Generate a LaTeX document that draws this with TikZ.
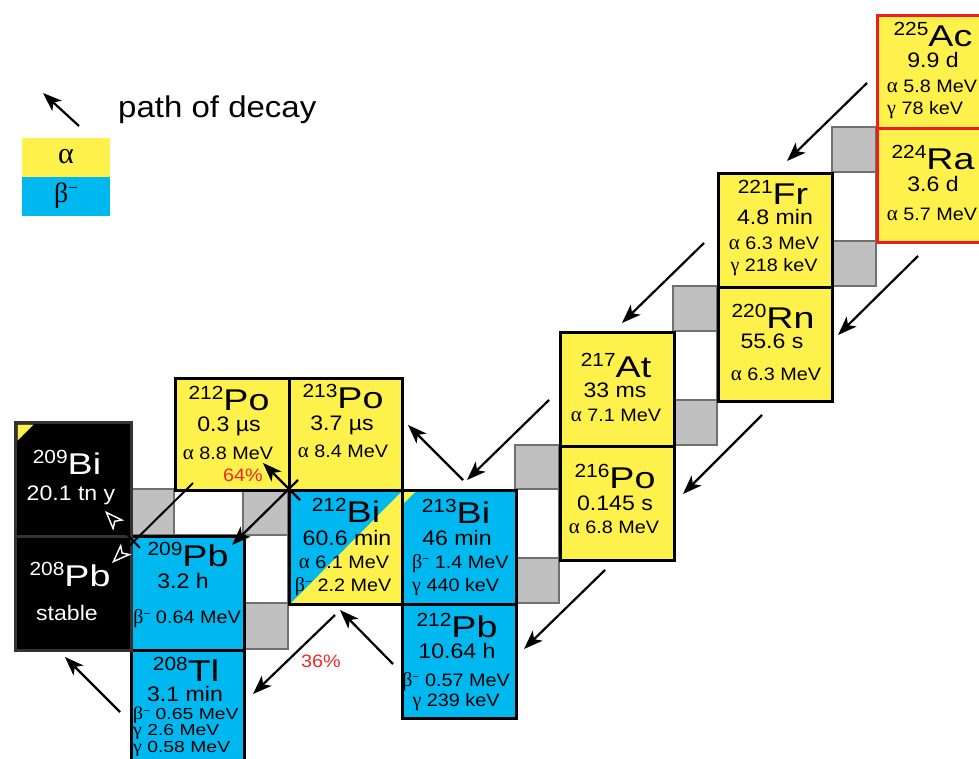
\documentclass[tikz,border=0pt]{standalone}
\usepackage{fontspec}
\setmainfont{Liberation Sans}[FakeStretch=1.1]
\newfontfamily\grk{Liberation Serif}
\usetikzlibrary{arrows.meta}
\definecolor{cyel}{RGB}{255,241,76}
\definecolor{cblu}{RGB}{0,184,240}
\definecolor{cgry}{RGB}{192,192,192}
\definecolor{cgrb}{RGB}{112,112,112}
\definecolor{cred}{RGB}{232,30,40}
\definecolor{cpct}{RGB}{238,40,40}
\newcommand\fsym{\fontsize{30}{30}\selectfont}
\newcommand\fsup{\fontsize{19}{19}\selectfont}
\newcommand\fhl{\fontsize{21}{21}\selectfont}
\newcommand\fen{\fontsize{18}{18}\selectfont}
\newcommand\nuc[2]{{\raisebox{11pt}{\fsup #1}\scalebox{1.14}[1]{\fsym #2}}}
\newcommand\myal{{\grk\fontsize{21}{21}\selectfont α}}
\newcommand\mygm{{\grk\fontsize{20}{20}\selectfont γ}}
\newcommand\mybm{{\grk\fontsize{20}{20}\selectfont β}\raisebox{6pt}{\fontsize{11}{11}\selectfont −}}
\newcommand\mybs{{\grk\fontsize{18}{18}\selectfont β}\raisebox{5pt}{\fontsize{10}{10}\selectfont −}}
\newcommand\mygs{{\grk\fontsize{18}{18}\selectfont γ}}
\begin{document}
\begin{tikzpicture}[x=1pt,y=-1pt,
  cellbox/.style={draw=black,line width=3pt,inner sep=0pt,anchor=north west,minimum width=114pt,minimum height=114pt},
  redbox/.style={cellbox,draw=cred},
  blkbox/.style={cellbox,draw=black!80,fill=black},
  strip/.style={draw=cgrb,line width=2pt},
  txt/.style={inner sep=0pt,anchor=base},
  txl/.style={inner sep=0pt,anchor=base west},
  arr/.style={line width=2.2pt,-{Stealth[length=19pt,width=14pt,inset=5pt]}},
  arw/.style={line width=2pt,-{Stealth[length=20pt,width=15pt,inset=5pt,color=white,fill=black,line width=1.4pt]}}]
\useasboundingbox (0,0) rectangle (979,759);
\clip (0,0) rectangle (979,759);
% strips between columns
\draw[strip,fill=white] (832,127) rectangle (876,286);
\draw[strip,fill=cgry] (832,127) rectangle (876,172);
\draw[strip,fill=cgry] (832,241) rectangle (876,286);
\draw[strip,fill=white] (673,286) rectangle (717,445);
\draw[strip,fill=cgry] (673,286) rectangle (717,331);
\draw[strip,fill=cgry] (673,400) rectangle (717,445);
\draw[strip,fill=white] (515,445) rectangle (559,603);
\draw[strip,fill=cgry] (515,445) rectangle (559,489);
\draw[strip,fill=cgry] (515,558) rectangle (559,603);
\draw[strip,fill=white] (130,489) rectangle (288,535);
\draw[strip,fill=white] (243,489) rectangle (288,649);
\draw[strip,fill=cgry] (130,489) rectangle (174,535);
\draw[strip,fill=cgry] (243,489) rectangle (288,535);
\draw[strip,fill=cgry] (243,603) rectangle (288,649);
% cells
\node[redbox,fill=cyel] (ac) at (876,14) {};
\node[redbox,fill=cyel] (ra) at (876,127) {};
\node[cellbox,fill=cyel] (fr) at (717,172) {};
\node[cellbox,fill=cyel] (rn) at (717,286) {};
\node[cellbox,fill=cyel] (at) at (559,331) {};
\node[cellbox,fill=cyel] (po216) at (559,445) {};
\node[cellbox,fill=cblu,path picture={\fill[cyel] (path picture bounding box.north west) -- ++(14pt,0) -- ++(-14pt,-14pt) -- cycle;}] (bi213) at (401,489) {};
\node[cellbox,fill=cblu] (pb212) at (401,603) {};
\node[cellbox,fill=cyel,minimum width=113pt,minimum height=112pt] (po213) at (288,377) {};
\node[cellbox,fill=cyel,minimum width=114pt,minimum height=112pt] (po212) at (174,377) {};
\node[cellbox,fill=cyel,minimum width=113pt,path picture={\fill[cblu] (path picture bounding box.north west) -- (path picture bounding box.north east) -- (path picture bounding box.south west) -- cycle;}] (bi212) at (288,489) {};
\node[cellbox,fill=cblu,minimum width=113pt] (pb209) at (130,535) {};
\node[cellbox,fill=cblu,minimum width=113pt,minimum height=120pt] (tl208) at (130,649) {};
\node[blkbox,minimum width=116pt,path picture={\fill[cyel] (path picture bounding box.north west) ++(2pt,-2pt) -- ++(16pt,0) -- ++(-16pt,-16pt) -- cycle;}] (bi209) at (14,421) {};
\node[blkbox,minimum width=116pt] (pb208) at (14,535) {};
% texts
\node[txt] (t-ac1) at (933,47) {\nuc{225}{Ac}};
\node[txt] (t-ac2) at (933,68) {\fhl 9.9 d};
\node[txt] (t-ac3) at (932,93) {\fen\myal{} 5.8 MeV};
\node[txl] (t-ac4) at (887,115) {\fen\mygm{} 78 keV};
\node[txt] (t-ra1) at (933,170) {\nuc{224}{Ra}};
\node[txt] (t-ra2) at (933,192) {\fhl 3.6 d};
\node[txt] (t-ra3) at (932,221) {\fen\myal{} 5.7 MeV};
\node[txt] (t-fr1) at (773,205) {\nuc{221}{Fr}};
\node[txt] (t-fr2) at (775,225) {\fhl 4.8 min};
\node[txt] (t-fr3) at (774,250) {\fen\myal{} 6.3 MeV};
\node[txt] (t-fr4) at (774,272) {\fen\mygm{} 218 keV};
\node[txt] (t-rn1) at (773,328) {\nuc{220}{Rn}};
\node[txt] (t-rn2) at (772,348) {\fhl 55.6 s};
\node[txt] (t-rn3) at (776,380) {\fen\myal{} 6.3 MeV};
\node[txt] (t-at1) at (616,377) {\nuc{217}{At}};
\node[txt] (t-at2) at (615,397) {\fhl 33 ms};
\node[txt] (t-at3) at (616,421) {\fen\myal{} 7.1 MeV};
\node[txt] (t-po6a) at (615,488) {\nuc{216}{Po}};
\node[txt] (t-po6b) at (615,510) {\fhl 0.145 s};
\node[txt] (t-po6c) at (614,533) {\fen\myal{} 6.8 MeV};
\node[txt] (t-bi3a) at (456,523) {\nuc{213}{Bi}};
\node[txt] (t-bi3b) at (457,545) {\fhl 46 min};
\node[txl] (t-bi3c) at (412,568) {\fen\mybm{} 1.4 MeV};
\node[txl] (t-bi3d) at (412,591) {\fen\mygm{} 440 keV};
\node[txt] (t-pb2a) at (457,637) {\nuc{212}{Pb}};
\node[txt] (t-pb2b) at (457,658) {\fhl 10.64 h};
\node[txt] (t-pb2c) at (456,686) {\fen\mybm{} 0.57 MeV};
\node[txt] (t-pb2d) at (456,706) {\fen\mygm{} 239 keV};
\node[txt] (t-po3a) at (343,408) {\nuc{213}{Po}};
\node[txt] (t-po3b) at (342,430) {\fhl 3.7 µs};
\node[txt] (t-po3c) at (343,457) {\fen\myal{} 8.4 MeV};
\node[txt] (t-po2a) at (229,410) {\nuc{212}{Po}};
\node[txt] (t-po2b) at (229,431) {\fhl 0.3 µs};
\node[txt] (t-po2c) at (228,459) {\fen\myal{} 8.8 MeV};
\node[txt,text=cpct] (t-po2d) at (243,481) {\fen 64\%};
\node[txt] (t-bi2a) at (346,522) {\nuc{212}{Bi}};
\node[txt] (t-bi2b) at (347,545) {\fhl 60.6 min};
\node[txt] (t-bi2c) at (344,568) {\fen\myal{} 6.1 MeV};
\node[txt] (t-bi2d) at (343,591) {\fen\mybm{} 2.2 MeV};
\node[txt] (t-pb9a) at (188,566) {\nuc{209}{Pb}};
\node[txt] (t-pb9b) at (183,588) {\fhl 3.2 h};
\node[txt] (t-pb9c) at (187,623) {\fen\mybm{} 0.64 MeV};
\node[txt] (t-tl8a) at (186,681) {\nuc{208}{Tl}};
\node[txt] (t-tl8b) at (185,701) {\fhl 3.1 min};
\node[inner sep=0pt,anchor=north west,align=left,font=\fontsize{16}{16.5}\selectfont] (t-tl8c) at (133,706.5)
  {\scalebox{1.1}[1]{\mybs{} 0.65 MeV}\\\scalebox{1.1}[1]{\mygs{} 2.6 MeV}\\\scalebox{1.1}[1]{\mygs{} 0.58 MeV}};
\node[txt,text=white] (t-bi9a) at (67,474) {\nuc{209}{Bi}};
\node[txt,text=white] (t-bi9b) at (71,500) {\fhl 20.1 tn y};
\node[txt,text=white] (t-pb8a) at (70,586) {\nuc{208}{Pb}};
\node[txt,text=white] (t-pb8b) at (67,620) {\fhl stable};
\node[txt,text=cpct] (t-36) at (321,667) {\fen 36\%};
% legend
\node[inner sep=0pt,fill=cyel,minimum width=88pt,minimum height=39pt,anchor=north west] (lga) at (22,138) {};
\node[inner sep=0pt,fill=cblu,minimum width=88pt,minimum height=39pt,anchor=north west] (lgb) at (22,177) {};
\node[inner sep=0pt] (lga-t) at (66,157) {\fontsize{30}{30}\selectfont\grk α};
\node[inner sep=0pt] (lgb-t) at (66,196) {\fontsize{28}{28}\selectfont\grk β\raisebox{9pt}{\fontsize{17}{17}\selectfont −}};
\node[txl] (lg-txt) at (118,118) {\fontsize{30}{30}\selectfont path of decay};
% arrow end points
\coordinate (l0s) at (79,126); \coordinate (l0e) at (43,93);
\coordinate (a1s) at (867,83); \coordinate (a1e) at (787,161);
\coordinate (a2s) at (918,256); \coordinate (a2e) at (838,335);
\coordinate (a3s) at (704,243); \coordinate (a3e) at (622,323);
\coordinate (a4s) at (762,415); \coordinate (a4e) at (683,494);
\coordinate (a5s) at (549,400); \coordinate (a5e) at (467,480);
\coordinate (a6s) at (605,570); \coordinate (a6e) at (524,649);
\coordinate (b1s) at (463,480); \coordinate (b1e) at (408,425);
\coordinate (b2s) at (393,664); \coordinate (b2e) at (340,610);
\coordinate (a7s) at (335,615); \coordinate (a7e) at (253,694);
\coordinate (b3s) at (300,500); \coordinate (b3e) at (263,463);
\coordinate (a8s) at (298,480); \coordinate (a8e) at (232,545);
\coordinate (a9s) at (193,483); \coordinate (a9e) at (112,563);
\coordinate (b4s) at (140,548); \coordinate (b4e) at (105,511);
\coordinate (b5s) at (120,712); \coordinate (b5e) at (65,657);
\draw[arr] (l0s) -- (l0e);
\draw[arr] (a1s) -- (a1e);
\draw[arr] (a2s) -- (a2e);
\draw[arr] (a3s) -- (a3e);
\draw[arr] (a4s) -- (a4e);
\draw[arr] (a5s) -- (a5e);
\draw[arr] (a6s) -- (a6e);
\draw[arr] (b1s) -- (b1e);
\draw[arr] (b2s) -- (b2e);
\draw[arr] (a7s) -- (a7e);
\draw[arr] (b3s) -- (b3e);
\draw[arr] (a8s) -- (a8e);
\draw[arw] (a9s) -- (a9e);
\draw[arw] (b4s) -- (b4e);
\draw[arr] (b5s) -- (b5e);
\end{tikzpicture}
\end{document}
